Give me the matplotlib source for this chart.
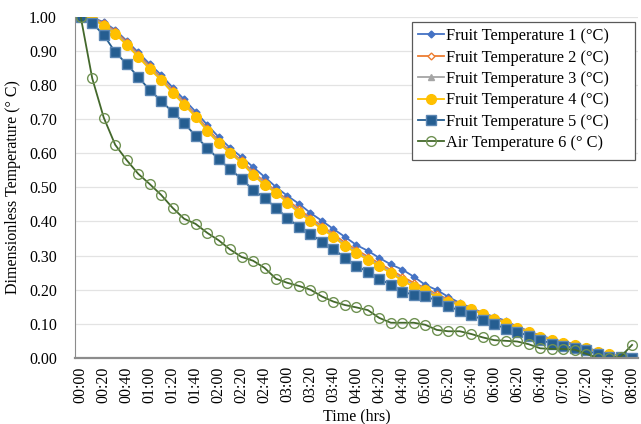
import numpy as np
import matplotlib.pyplot as plt
from matplotlib.patches import Rectangle

plt.rcParams['font.family'] = ['Liberation Serif', 'DejaVu Serif']

# time stamps every 10 min from 00:00 to 08:00
times = ['%02d:%02d' % (m // 60, m % 60) for m in range(0, 481, 10)]

fruit1 = [1.0, 0.998, 0.985, 0.962, 0.93, 0.896, 0.862, 0.83, 0.793, 0.758,
          0.722, 0.684, 0.648, 0.616, 0.589, 0.56, 0.531, 0.501, 0.475, 0.452,
          0.425, 0.402, 0.378, 0.355, 0.331, 0.314, 0.293, 0.274, 0.259, 0.238,
          0.214, 0.199, 0.179, 0.161, 0.147, 0.132, 0.12, 0.109, 0.091, 0.079,
          0.065, 0.056, 0.047, 0.041, 0.032, 0.018, 0.012, 0.006, 0.0]
fruit2 = [1.0, 0.997, 0.982, 0.958, 0.926, 0.89, 0.855, 0.822, 0.785, 0.75,
          0.713, 0.674, 0.637, 0.607, 0.579, 0.546, 0.516, 0.49, 0.463, 0.436,
          0.41, 0.387, 0.363, 0.338, 0.317, 0.297, 0.277, 0.258, 0.238, 0.22,
          0.205, 0.186, 0.172, 0.158, 0.145, 0.131, 0.118, 0.105, 0.09, 0.078,
          0.064, 0.054, 0.046, 0.039, 0.03, 0.018, 0.012, 0.004, 0.0]
fruit3 = [1.0, 0.996, 0.979, 0.955, 0.922, 0.887, 0.851, 0.819, 0.781, 0.747,
          0.71, 0.67, 0.634, 0.604, 0.576, 0.542, 0.512, 0.487, 0.459, 0.43,
          0.406, 0.383, 0.359, 0.333, 0.313, 0.292, 0.273, 0.254, 0.232, 0.215,
          0.202, 0.182, 0.169, 0.157, 0.144, 0.13, 0.117, 0.104, 0.089, 0.077,
          0.063, 0.053, 0.045, 0.038, 0.029, 0.018, 0.012, 0.003, 0.0]
fruit4 = [1.0, 0.995, 0.974, 0.95, 0.918, 0.883, 0.847, 0.815, 0.777, 0.743,
          0.707, 0.666, 0.63, 0.601, 0.572, 0.537, 0.507, 0.484, 0.455, 0.425,
          0.402, 0.378, 0.355, 0.328, 0.308, 0.287, 0.268, 0.249, 0.226, 0.209,
          0.199, 0.177, 0.165, 0.155, 0.142, 0.129, 0.115, 0.102, 0.088, 0.075,
          0.062, 0.052, 0.045, 0.038, 0.029, 0.018, 0.012, 0.003, 0.0]
fruit5 = [1.0, 0.982, 0.947, 0.897, 0.862, 0.824, 0.786, 0.754, 0.721, 0.689,
          0.651, 0.616, 0.583, 0.554, 0.525, 0.493, 0.469, 0.44, 0.41, 0.384,
          0.364, 0.34, 0.32, 0.293, 0.27, 0.252, 0.232, 0.214, 0.194, 0.185,
          0.182, 0.167, 0.152, 0.138, 0.126, 0.112, 0.1, 0.085, 0.077, 0.064,
          0.053, 0.042, 0.034, 0.03, 0.023, 0.01, 0.003, 0.002, 0.0]
air6 = [1.0, 0.82, 0.705, 0.625, 0.58, 0.54, 0.51, 0.478, 0.44, 0.408,
        0.393, 0.367, 0.345, 0.318, 0.296, 0.285, 0.264, 0.232, 0.22, 0.211,
        0.2, 0.18, 0.165, 0.155, 0.148, 0.14, 0.117, 0.103, 0.103, 0.103,
        0.097, 0.082, 0.078, 0.078, 0.07, 0.06, 0.052, 0.05, 0.048, 0.04,
        0.028, 0.026, 0.026, 0.024, 0.012, 0.0, 0.0, 0.003, 0.038]

x = np.arange(len(times))

fig = plt.figure(figsize=(6.41, 4.24), dpi=100)
ax = fig.add_axes([0.117, 0.156, 0.878, 0.804])

ax.plot(x, fruit1, '-D', color='#4472C4', ms=3.5, lw=1.3, label='Fruit Temperature 1 (°C)')
ax.plot(x, fruit2, '-D', color='#ED7D31', mfc='white', ms=3.5, lw=1.3, label='Fruit Temperature 2 (°C)')
ax.plot(x, fruit3, '-^', color='#A5A5A5', ms=4.5, lw=1.3, label='Fruit Temperature 3 (°C)')
ax.plot(x, fruit4, '-o', color='#FFC000', ms=7, lw=1.3, label='Fruit Temperature 4 (°C)')
ax.plot(x, fruit5, '-s', color='#255E91', mec='#5b86b3', ms=6.5, lw=1.3, label='Fruit Temperature 5 (°C)')
ax.plot(x, air6, '-o', color='#43682B', mfc='none', mec='#6f9152', ms=7, lw=1.3, label='Air Temperature 6 (° C)')

ax.set_xlim(-0.5, len(times) - 0.5)
ax.set_ylim(0, 1)
ax.set_yticks(np.arange(0, 1.01, 0.1))
ax.set_yticklabels(['%.2f' % v for v in np.arange(0, 1.01, 0.1)], fontsize=11.5)
ax.set_xticks(x[::2])
ax.set_xticklabels(times[::2], rotation=90, fontsize=11.5)
ax.tick_params(axis='y', length=0, pad=13)
ax.tick_params(axis='x', length=0, pad=6)

ax.grid(axis='y', color='#e3e3e3', lw=0.9)
ax.set_axisbelow(True)
for s in ['top', 'right']:
    ax.spines[s].set_visible(False)
ax.spines['left'].set_color('#8c8c8c')
ax.spines['bottom'].set_color('#8c8c8c')
ax.spines['bottom'].set_linewidth(1.6)

ax.set_xlabel('Time (hrs)', fontsize=11.5, labelpad=4)
ax.set_ylabel('Dimensionless Temperature (° C)', fontsize=11.5, labelpad=6)

# legend box drawn separately (wider than the entries, as in the original)
box = Rectangle((412 / 641, 1 - 160 / 424), 223 / 641, 138 / 424, transform=fig.transFigure,
                facecolor='white', edgecolor='#595959', lw=0.9, zorder=5)
fig.patches.append(box)
leg = fig.legend(loc='upper left', bbox_to_anchor=(414 / 641, 1 - 24 / 424), fontsize=11.8,
                 frameon=False, handlelength=1.6, handletextpad=0.1,
                 labelspacing=0.33, borderpad=0.25, borderaxespad=0)
leg.set_zorder(6)

fig.savefig('out.png', dpi=100)
